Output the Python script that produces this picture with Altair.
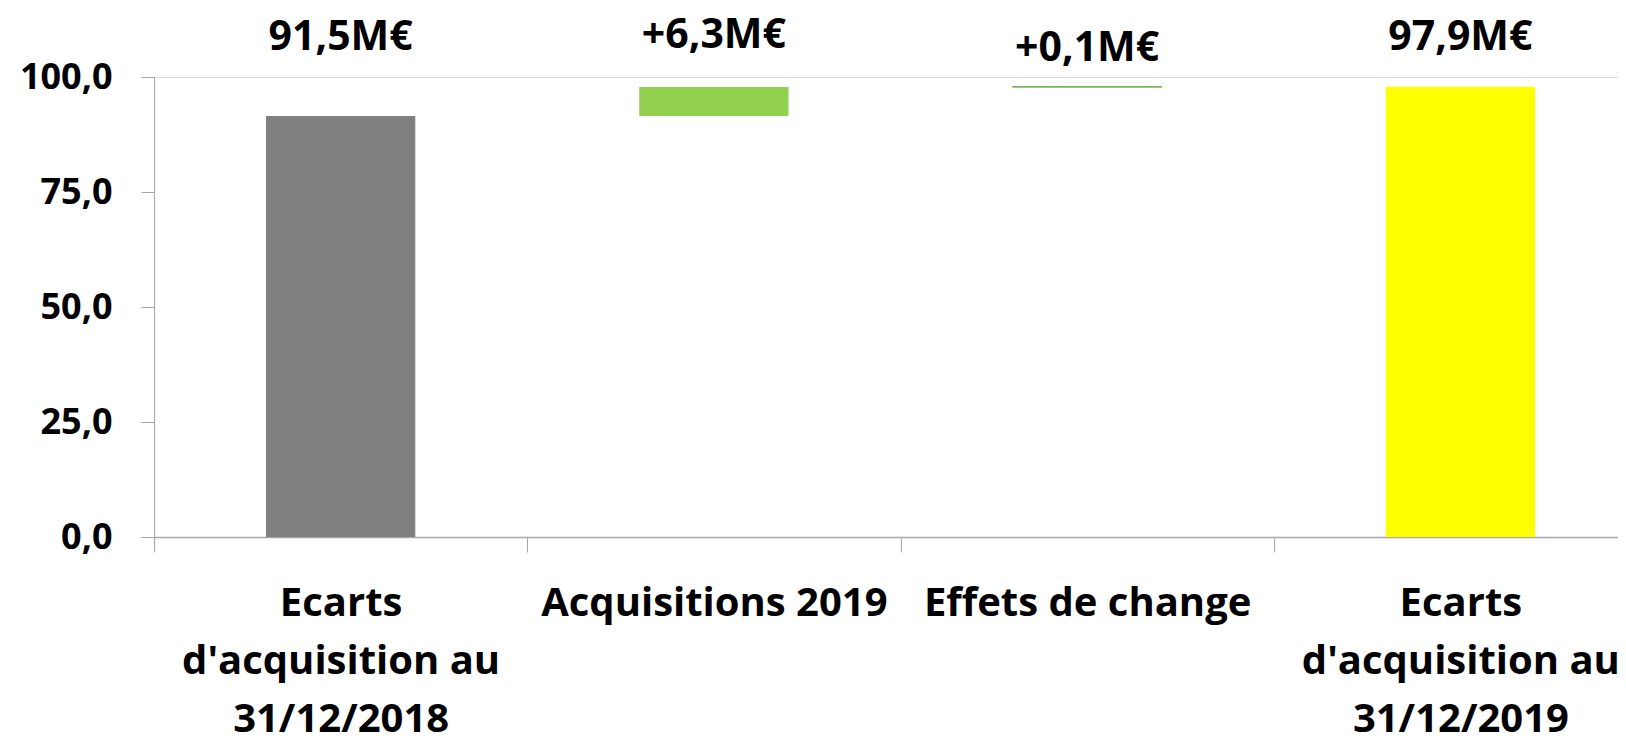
import altair as alt
import pandas as pd

categories = [
    "Ecarts|d'acquisition au|31/12/2018",
    "Acquisitions 2019",
    "Effets de change",
    "Ecarts|d'acquisition au|31/12/2019",
]
values = [91.5, 6.3, 0.1, 97.9]
kinds = ["total", "delta", "delta", "total"]
label_level = [108.5, 108.9, 106.1, 108.5]
colors = ["#808080", "#92d050", "#92d050", "#ffff00"]
y_ticks = [0, 25, 50, 75, 100]

rows = []
running = 0.0
for cat, v, k, lv in zip(categories, values, kinds, label_level):
    if k == "total":
        start, end = 0.0, v
        running = v
        txt = f"{v:.1f}".replace(".", ",") + "M€"
    else:
        start, end = running, running + v
        running = end
        txt = "+" + f"{v:.1f}".replace(".", ",") + "M€"
    rows.append({"cat": cat, "start": start, "end": end, "label": txt, "ly": lv})
df = pd.DataFrame(rows)

FONT = "Open Sans"
GREY = "#a6a6a6"

x = alt.X(
    "cat:N",
    sort=categories,
    title=None,
    scale=alt.Scale(paddingInner=0, paddingOuter=0, range=[0, 1493]),
    axis=alt.Axis(
        labelAngle=0,
        labelExpr="split(datum.label, '|')",
        labelFont=FONT,
        labelFontWeight="bold",
        labelFontSize=40,
        labelColor="#000000",
        labelLineHeight=58,
        labelPadding=31,
        labelLimit=1000,
        tickBand="extent",
        tickSize=15,
        tickColor=GREY,
        domainColor=GREY,
        domainWidth=1.5,
        tickWidth=1,
        grid=False,
    ),
)

bars = alt.Chart(df).mark_bar(width=alt.RelativeBandSize(0.4)).encode(
    x=x,
    y=alt.Y(
        "start:Q",
        title=None,
        scale=alt.Scale(domain=[0, 100], nice=False, zero=True),
        axis=alt.Axis(
            values=y_ticks,
            labelExpr="replace(format(datum.value, '.1f'), '.', ',')",
            labelFont=FONT,
            labelFontWeight="bold",
            labelFontSize=36,
            labelColor="#000000",
            labelPadding=29,
            tickSize=13,
            tickColor=GREY,
            domainColor=GREY,
            grid=False,
        ),
    ),
    y2="end:Q",
    color=alt.Color("cat:N", scale=alt.Scale(domain=categories, range=colors), legend=None),
    stroke=alt.condition(
        alt.datum.cat == "Effets de change", alt.value("#70ad47"), alt.value(None)
    ),
    strokeWidth=alt.condition(
        alt.datum.cat == "Effets de change", alt.value(1), alt.value(0)
    ),
)

labels = alt.Chart(df).mark_text(
    font=FONT, fontWeight="bold", fontSize=41, color="#000000", baseline="middle", align="center"
).encode(
    x=alt.X("cat:N", sort=categories),
    y=alt.Y("ly:Q"),
    text="label:N",
)

chart = (
    alt.layer(bars, labels)
    .properties(
        width=1464,
        height=460,
        autosize=alt.AutoSizeParams(type="none"),
        padding={"left": 146, "top": 69, "right": 0, "bottom": 199},
    )
    .configure_view(stroke=None)
    .configure(background="#ffffff")
)

chart.save("out.html", embed_options={"renderer": "svg", "actions": False})
